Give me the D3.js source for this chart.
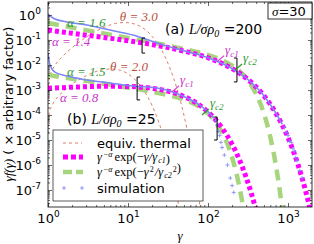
<!DOCTYPE html>
<html><head><meta charset="utf-8">
<script src="https://cdn.jsdelivr.net/npm/d3@7"></script>
<style>
body{margin:0;background:#fff}
text{font-family:"DejaVu Sans",sans-serif}
.m{font-family:"Liberation Serif","DejaVu Serif",serif;font-style:italic}
.r{font-family:"Liberation Serif","DejaVu Serif",serif}
</style></head><body>
<svg id="c" width="314" height="244"></svg>
<script>
// (a) L/sigma rho0 = 200
const pinkA = [[1,0.25],[2,0.186],[5,0.126],[10,0.093],[20,0.066],[50,0.036],[100,0.0195],[150,0.0115],[200,0.0072],[300,0.0030],[400,1.32e-3],[500,5.9e-4],[700,1.23e-4],[850,3.9e-5],[1000,1.26e-5],[1200,2.8e-6],[1500,3.0e-7],[1700,6.9e-8],[2000,7.6e-9]]
const greenA = [[1,0.48],[2,0.316],[5,0.182],[10,0.12],[20,0.079],[50,0.0437],[100,0.0251],[150,0.0155],[200,0.0095],[300,0.00295],[400,6.9e-4],[500,1.15e-4],[600,1.35e-5],[700,1.12e-6],[800,6.8e-8],[900,2.8e-9]]
const simA = [[1,1.1],[1.155,0.76],[1.73,0.525],[3.07,0.40],[5.95,0.25],[11.5,0.158],[25,0.07],[50,0.037],[100,0.0195],[200,0.0072],[300,0.0030],[500,5.9e-4],[700,1.23e-4],[850,4.2e-5]]
const simAtail = [[900,3.2e-5],[950,2.0e-5],[1000,1.5e-5],[1050,9e-6],[1100,8e-6],[1150,4.5e-6],[1200,3.5e-6],[1250,2e-6],[1300,1.5e-6],[1400,6e-7],[1500,3e-7]]
const thermA = [[1.001,4.5e-4],[1.01,1.4e-3],[1.05,3.5e-3],[1.1,5.3e-3],[1.2,8.9e-3],[1.5,0.021],[2,0.049],[3,0.129],[5,0.32],[7,0.46],[9,0.50],[12,0.44],[15,0.32],[20,0.14],[30,0.017],[40,1.44e-3],[50,1.0e-4],[60,6.2e-6],[70,3.5e-7],[80,1.9e-8]]
// (b) L/sigma rho0 = 25
const pinkB = [[1,1.17e-3],[2,1.29e-3],[5,1.41e-3],[10,1.38e-3],[20,1.17e-3],[30,9.3e-4],[50,5.5e-4],[75,2.75e-4],[100,1.32e-4],[150,3.0e-5],[200,6.8e-6],[250,1.48e-6],[300,3.2e-7],[350,6.9e-8],[400,1.5e-8]]
const greenB = [[1,4.0e-3],[2,2.8e-3],[5,1.78e-3],[10,1.24e-3],[20,8.5e-4],[30,6.5e-4],[50,4.1e-4],[75,2.3e-4],[100,1.15e-4],[125,5.1e-5],[150,2.0e-5],[175,6.9e-6],[200,2.0e-6],[225,5.1e-7],[250,1.1e-7],[275,2.1e-8],[300,3.5e-9]]
const simB = [[1,0.030],[1.06,0.010],[1.22,5.2e-3],[1.73,3.6e-3],[3.07,2.5e-3],[5.95,1.9e-3],[11.5,1.45e-3],[25,1.15e-3],[50,5.5e-4],[75,2.8e-4],[100,1.35e-4],[120,7e-5]]
const simBtail = [[125,6e-5],[130,4e-5],[135,2.2e-5],[140,1.5e-5],[145,8e-6],[150,5e-6],[160,2.5e-6],[175,1e-6],[190,3e-7],[200,1.5e-7],[210,8e-8]]
const thermB = [[1.001,1.8e-5],[1.01,5.8e-5],[1.05,1.4e-4],[1.1,2.1e-4],[1.2,3.5e-4],[1.5,7.9e-4],[2,1.7e-3],[3,3.7e-3],[4,5.5e-3],[6,6.9e-3],[8,6.2e-3],[10,4.4e-3],[15,1.2e-3],[20,2.4e-4],[30,5.5e-6],[40,8.7e-8],[45,1.0e-8]]
// fit ranges [gamma, vTop, vBottom, side]
const brackets = [[15,0.12,0.030,'['],[230,0.019,0.0021,']'],[13,3.3e-3,4e-4,'['],[130,8.3e-5,1e-5,']']]
// cutoff markers [gamma, value, label, series]
const cutoffs = [[130,0.0136,'c1','p'],[218,0.0063,'c2','g'],[35.5,8.4e-4,'c1','p'],[84,1.0e-4,'c2','g']]
const xTicks = [1,10,100,1000]
const yTicks = [1,1e-1,1e-2,1e-3,1e-4,1e-5,1e-6,1e-7]

const mg = {l:48, r:312, t:2, b:207}
const svg = d3.select('#c')
const x = d3.scaleLog().domain([1,1995]).range([mg.l,mg.r])
const y = d3.scaleLog().domain([2.09e-8,3.31]).range([mg.b,mg.t])

const col = {pink:'#ff00ff', green:'#a6d57e', blue:'#7d86f7', therm:'#dd7f66',
  tPink:'#cc33cc', tGreen:'#2e9a2e', tTherm:'#b8503a'}

svg.append('clipPath').attr('id','clip').append('rect')
  .attr('x',mg.l).attr('y',mg.t).attr('width',mg.r-mg.l).attr('height',mg.b-mg.t)

const line = d3.line().x(d=>x(d[0])).y(d=>y(d[1])).curve(d3.curveMonotoneX)
const g = svg.append('g').attr('clip-path','url(#clip)')

function draw(data, c, w, dash){
  g.append('path').datum(data).attr('d',line).attr('fill','none')
    .attr('stroke',c).attr('stroke-width',w).attr('stroke-dasharray',dash)
}
draw(thermA, col.therm, 1, '3,3')
draw(thermB, col.therm, 1, '3,3')
draw(greenA, col.green, 4.5, '11,7')
draw(greenB, col.green, 4.5, '11,7')
draw(pinkA, col.pink, 5, '4,3')
draw(pinkB, col.pink, 5, '4,3')
draw(simA, col.blue, 1.5, null)
draw(simB, col.blue, 1.5, null)

function plus(sel, data){
  sel.selectAll(null).data(data).enter().append('path')
    .attr('d', d=>`M${x(d[0])-2},${y(d[1])}h4M${x(d[0])},${y(d[1])-2}v4`)
    .attr('stroke',col.blue).attr('stroke-width',0.8)
}
plus(g, simAtail)
plus(g, simBtail)

// axes frame
function sup(sel){
  sel.each(function(d){
    const t = d3.select(this), e = Math.round(Math.log10(d))
    t.text(null)
    t.append('tspan').text('10')
    t.append('tspan').attr('dy',-6).attr('font-size',9).text(e)
  })
}
const minors = []
for(let p=0;p<4;p++) for(let k=2;k<10;k++) if(k*10**p<1995) minors.push(k*10**p)
const yMinors = []
for(let p=-8;p<1;p++) for(let k=2;k<10;k++){ const v=k*10**p; if(v>2.09e-8 && v<3.31) yMinors.push(v) }

function axis(gen, tr, vals, size, labels){
  const a = svg.append('g').attr('transform',tr)
    .call(gen.tickValues(vals).tickSizeInner(-size).tickSizeOuter(0).tickPadding(7))
  a.select('.domain').remove()
  a.selectAll('line').attr('stroke','#000').attr('stroke-width',0.6)
  if(labels) a.selectAll('text').attr('font-size',13).attr('fill','#000').call(sup)
  else a.selectAll('text').remove()
  return a
}
axis(d3.axisBottom(x), `translate(0,${mg.b})`, xTicks, 4, true)
axis(d3.axisBottom(x), `translate(0,${mg.b})`, minors, 2, false)
axis(d3.axisTop(x), `translate(0,${mg.t})`, xTicks, 4, false)
axis(d3.axisTop(x), `translate(0,${mg.t})`, minors, 2, false)
axis(d3.axisLeft(y), `translate(${mg.l},0)`, yTicks, 4, true)
axis(d3.axisLeft(y), `translate(${mg.l},0)`, yMinors, 2, false)
axis(d3.axisRight(y), `translate(${mg.r},0)`, yTicks, 4, false)
axis(d3.axisRight(y), `translate(${mg.r},0)`, yMinors, 2, false)
svg.append('rect').attr('x',mg.l).attr('y',mg.t).attr('width',mg.r-mg.l).attr('height',mg.b-mg.t)
  .attr('fill','none').attr('stroke','#000').attr('stroke-width',0.8)

// brackets
brackets.forEach(b=>{
  const bx = x(b[0]), y0 = y(b[1]), y1 = y(b[2]), s = b[3]=='[' ? 3 : -3
  svg.append('path').attr('d',`M${bx+s},${y0}H${bx}V${y1}H${bx+s}`)
    .attr('fill','none').attr('stroke','#000').attr('stroke-width',1)
})
// cutoff markers
cutoffs.forEach(c=>{
  const cx = x(c[0]), cy = y(c[1]), clr = c[3]=='p' ? col.tPink : col.tGreen
  svg.append('line').attr('x1',cx).attr('y1',cy).attr('x2',cx+7).attr('y2',cy-6)
    .attr('stroke',clr).attr('stroke-width',1.2)
  const t = svg.append('text').attr('class','m').attr('x',cx+8).attr('y',cy-8)
    .attr('fill',clr).attr('font-size',13)
  t.append('tspan').text('γ')
  t.append('tspan').attr('dy',3).attr('font-size',9).text(c[2])
})

// annotations [gamma, value, text, colour]
const notes = [[1.73,0.33,'α = 1.6',col.tGreen],[1.12,0.058,'α = 1.4',col.tPink],[7.9,0.575,'θ = 3.0',col.tTherm],
  [1.73,3.6e-3,'α = 1.5',col.tGreen],[5.96,5.75e-3,'θ = 2.0',col.tTherm],[1.41,3.3e-4,'α = 0.8',col.tPink]]
notes.forEach(n=>{
  svg.append('text').attr('class','m').attr('x',x(n[0])).attr('y',y(n[1]))
    .attr('fill',n[3]).attr('font-size',13).text(n[2])
})
function panel(gx, gv, lab, val){
  const t = svg.append('text').attr('x',x(gx)).attr('y',y(gv)).attr('font-size',14)
  t.append('tspan').text(lab+' ')
  t.append('tspan').attr('class','m').text('L/σρ')
  t.append('tspan').attr('class','m').attr('dy',3).attr('font-size',10).text('0')
  t.append('tspan').attr('dy',-3).text(' ='+val)
}
panel(29,0.174,'(a)',200)
panel(1.73,4.4e-5,'(b)',25)

// sigma box
svg.append('rect').attr('x',268).attr('y',3).attr('width',44).attr('height',16)
  .attr('fill','#fff').attr('stroke','#000').attr('stroke-width',0.8)
const st = svg.append('text').attr('x',272).attr('y',16).attr('font-size',13)
st.append('tspan').attr('class','m').text('σ')
st.append('tspan').text('=30')

// legend
const lg = svg.append('g')
lg.append('rect').attr('x',53).attr('y',130).attr('width',150).attr('height',71)
  .attr('fill','#fff').attr('stroke','#333').attr('stroke-width',0.8)
const rows = [143,157,172,188]
lg.append('line').attr('x1',63).attr('x2',82).attr('y1',rows[0]).attr('y2',rows[0])
  .attr('stroke',col.therm).attr('stroke-width',1).attr('stroke-dasharray','3,3')
lg.append('line').attr('x1',63).attr('x2',83).attr('y1',rows[1]).attr('y2',rows[1])
  .attr('stroke',col.pink).attr('stroke-width',5).attr('stroke-dasharray','5,3')
lg.append('line').attr('x1',63).attr('x2',83).attr('y1',rows[2]).attr('y2',rows[2])
  .attr('stroke',col.green).attr('stroke-width',4.5).attr('stroke-dasharray','9,4')
;[64,82].forEach(px=>lg.append('path').attr('d',`M${px-2},${rows[3]}h4M${px},${rows[3]-2}v4`)
  .attr('stroke',col.blue).attr('stroke-width',0.8))
lg.append('text').attr('x',97).attr('y',rows[0]+5).attr('font-size',13).text('equiv. thermal')
function formula(yy, frac){
  const t = lg.append('text').attr('class','r').attr('x',97).attr('y',yy+4).attr('font-size',12.5)
  t.append('tspan').attr('class','m').text('γ')
  t.append('tspan').attr('class','m').attr('dx',1).attr('dy',-4).attr('font-size',8).text('−α')
  t.append('tspan').attr('dx',2).attr('dy',4).text('exp(−')
  frac(t)
  t.append('tspan').text(')')
}
formula(rows[1], t=>{
  t.append('tspan').attr('class','m').text('γ/γ')
  t.append('tspan').attr('class','m').attr('dx',1).attr('dy',2).attr('font-size',8).text('c1')
  t.append('tspan').attr('dy',-2).text('')
})
formula(rows[2], t=>{
  t.append('tspan').attr('class','m').text('γ')
  t.append('tspan').attr('dx',1).attr('dy',-4).attr('font-size',8).text('2')
  t.append('tspan').attr('class','m').attr('dx',1).attr('dy',4).text('/γ')
  t.append('tspan').attr('class','m').attr('dx',1).attr('dy',2).attr('font-size',8).text('c2')
  t.append('tspan').attr('dx',1).attr('dy',-6).attr('font-size',8).text('2')
  t.append('tspan').attr('dy',4).text('')
})
lg.append('text').attr('x',97).attr('y',rows[3]+5).attr('font-size',13).text('simulation')

// axis titles
svg.append('text').attr('class','m').attr('x',180).attr('y',240).attr('text-anchor','middle')
  .attr('font-size',13).text('γ')
const yl = svg.append('text').attr('transform','translate(13,104) rotate(-90)')
  .attr('text-anchor','middle').attr('font-size',13)
yl.append('tspan').attr('class','m').text('γf(γ)')
yl.append('tspan').text(' ( × arbitrary factor)')
</script></body></html>
